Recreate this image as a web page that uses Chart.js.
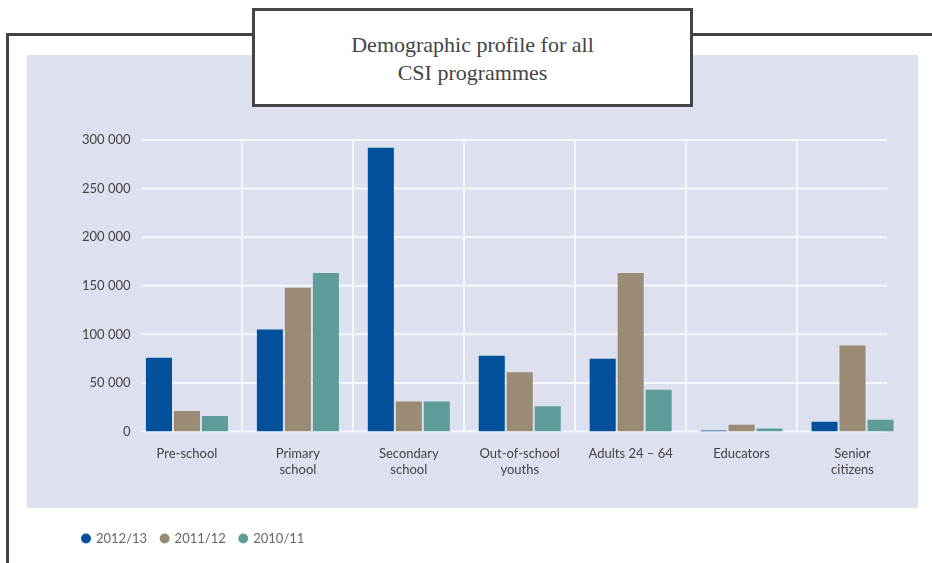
<!DOCTYPE html>
<html>
<head>
<meta charset="utf-8">
<script src="https://cdn.jsdelivr.net/npm/chart.js@4"></script>
<style>
  body { margin: 0; background: #fff; }
  #wrap { position: relative; width: 932px; height: 563px; overflow: hidden; }
  #frame { position: absolute; left: 6px; top: 33px; width: 940px; height: 560px;
           border-top: 3px solid #444; border-left: 3px solid #444; }
  #plotbg { position: absolute; left: 27px; top: 55px; width: 891px; height: 453px; background: #dde0ee; }
  #title { position: absolute; left: 252px; top: 8px; width: 441px; height: 99px; box-sizing: border-box;
           border: 3px solid #444; background: #fff; text-align: center;
           font-family: "Liberation Serif", "DejaVu Serif", serif; font-size: 22px; line-height: 28px;
           color: #444; padding-top: 20px; }
  canvas { position: absolute; left: 0; top: 0; }
</style>
</head>
<body>
<div id="wrap">
  <div id="frame"></div>
  <div id="plotbg"></div>
  <canvas id="myChart" width="932" height="563"></canvas>
  <div id="title">Demographic profile for all<br>CSI programmes</div>
</div>
<script>
// values
const categories = [['Pre-school'], ['Primary', 'school'], ['Secondary', 'school'], ['Out-of-school', 'youths'], ['Adults 24 – 64'], ['Educators'], ['Senior', 'citizens']];
const seriesNames = ['2012/13', '2011/12', '2010/11'];
const values2012 = [76000, 105000, 292000, 78000, 75000, 1000, 10000];
const values2011 = [21000, 148000, 31000, 61000, 163000, 7000, 88500];
const values2010 = [16000, 163000, 31000, 26000, 43000, 3000, 12000];
const yTicks = [0, 50000, 100000, 150000, 200000, 250000, 300000];

const gridWhite = '#f7f8fc';

// horizontal grid lines, shorter than the plot area like in the original
const hLines = {
  id: 'hLines',
  beforeDatasetsDraw(chart) {
    const { ctx, chartArea, scales: { y } } = chart;
    ctx.save();
    ctx.strokeStyle = gridWhite;
    ctx.lineWidth = 2;
    yTicks.forEach(v => {
      const py = y.getPixelForValue(v);
      ctx.beginPath();
      ctx.moveTo(chartArea.left + 10, py);
      ctx.lineTo(chartArea.right - 21, py);
      ctx.stroke();
    });
    ctx.restore();
  }
};

const ctx = document.getElementById('myChart').getContext('2d');
const myChart = new Chart(ctx, {
  type: 'bar',
  data: {
    labels: categories,
    datasets: [
      { label: seriesNames[0], data: values2012, backgroundColor: '#00509b' },
      { label: seriesNames[1], data: values2011, backgroundColor: '#9a8b74' },
      { label: seriesNames[2], data: values2010, backgroundColor: '#5e9c99' }
    ]
  },
  options: {
    responsive: false,
    animation: false,
    categoryPercentage: 0.757,
    barPercentage: 0.93,
    layout: { padding: { left: 68.5, right: 24, top: 140, bottom: 8 } },
    scales: {
      x: {
        afterFit: s => { s.height = 86.5; },
        border: { display: false },
        grid: {
          offset: true,
          drawTicks: false,
          lineWidth: 2,
          color: c => (c.type !== 'tick' || c.index === 0) ? 'rgba(0,0,0,0)' : gridWhite
        },
        ticks: {
          padding: 15,
          maxRotation: 0,
          autoSkip: false,
          color: '#444',
          font: { family: 'Lato', size: 13 }
        }
      },
      y: {
        min: 0,
        max: 300000,
        afterFit: s => { s.width = 63; },
        border: { display: false },
        grid: { display: false, drawTicks: false },
        afterBuildTicks: s => { s.ticks = yTicks.map(v => ({ value: v })); },
        ticks: {
          padding: 1,
          color: '#444',
          font: { family: 'Lato', size: 13 },
          callback: v => v.toString().replace(/\B(?=(\d{3})+(?!\d))/g, ' ')
        }
      }
    },
    plugins: {
      tooltip: { enabled: false },
      legend: {
        position: 'bottom',
        align: 'start',
        labels: {
          usePointStyle: true,
          pointStyle: 'circle',
          boxWidth: 7,
          boxHeight: 7,
          padding: 14,
          color: '#666',
          font: { family: 'Lato', size: 13 }
        }
      }
    }
  },
  plugins: [hLines]
});
</script>
</body>
</html>
